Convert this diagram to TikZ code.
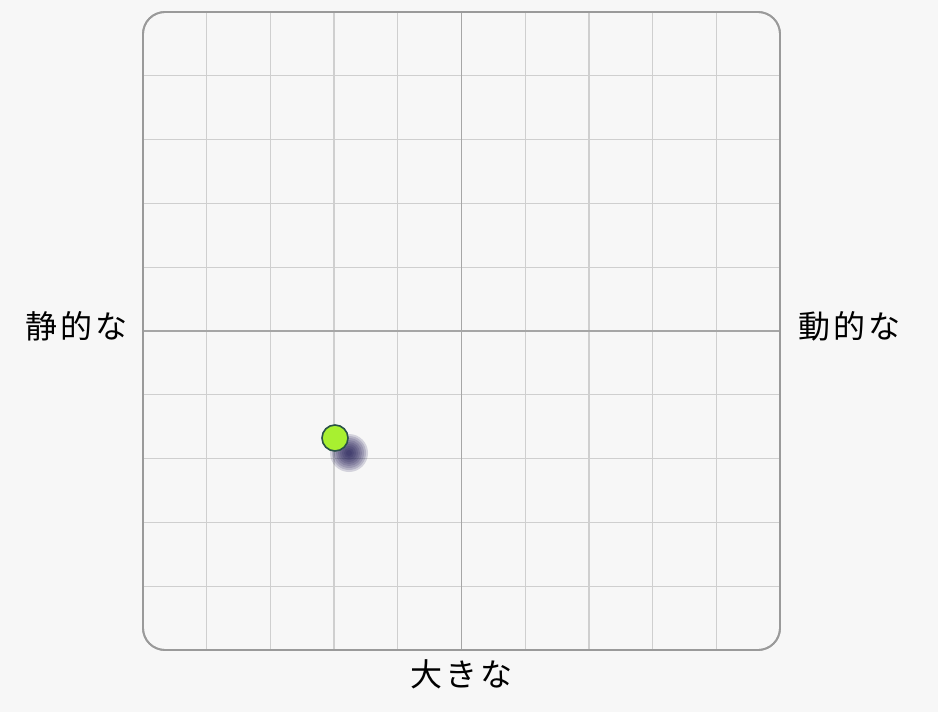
\documentclass[tikz,border=0pt]{standalone}
\usepackage{fontspec}
\newfontfamily\jpfont[LetterSpace=10]{Noto Sans CJK JP}
\usetikzlibrary{positioning}

\definecolor{paper}{HTML}{F7F7F7}
\definecolor{gridgray}{HTML}{CFCFCF}
\definecolor{axisgray}{HTML}{A6A6A6}
\definecolor{framegray}{HTML}{9A9A9A}
\definecolor{dotgreen}{HTML}{A8F030}
\definecolor{dotedge}{HTML}{2A5248}
\definecolor{shadownavy}{HTML}{1A1650}

\begin{document}
\begin{tikzpicture}[x=1pt, y=-1pt,
	gridline/.style={draw=gridgray, line width=1.3pt},
	axisline/.style={draw=axisgray, line width=1.8pt},
	boardframe/.style={draw=framegray, line width=1.8pt, rounded corners=22pt, minimum width=637pt, minimum height=638pt, inner sep=0pt},
	axislabel/.style={font=\jpfont\fontsize{32}{36}\selectfont, inner sep=0pt},
	marker/.style={circle, fill=dotgreen, draw=dotedge, line width=1.6pt, minimum size=26pt, inner sep=0pt}]
	\fill[paper] (0,0) rectangle (938,712);
	\useasboundingbox (0,0) rectangle (938,712);
	% plot area
	\node [boardframe] (board) at (461.5,331) {};
	\foreach \i in {1,2,3,4,6,7,8,9} {
		\draw [gridline] (143+63.7*\i,12) -- (143+63.7*\i,650);
		\draw [gridline] (143,12+63.8*\i) -- (780,12+63.8*\i);
	}
	\draw [axisline] (board.north) -- (board.south);
	\draw [axisline] (board.west) -- (board.east);
	\node [boardframe] at (board) {};
	% labels
	\node [axislabel, left=14pt of board, yshift=5pt]	(static)	{静的な};
	\node [axislabel, right=17pt of board, yshift=5pt]	(dynamic)	{動的な};
	\node [axislabel, below=9pt of board]			(large)		{大きな};
	% point
	\coordinate (shadow) at (349,453);
	\foreach \r in {19,17,...,3}
		\fill [shadownavy, opacity=0.16] (shadow) circle (\r);
	\node [marker] (point) at (335,438) {};
\end{tikzpicture}
\end{document}
